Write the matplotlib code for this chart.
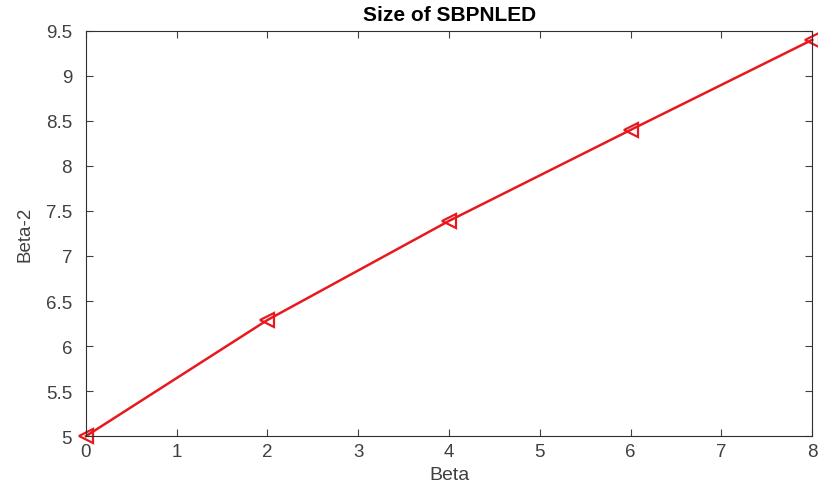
import matplotlib
matplotlib.use("Agg")
import matplotlib.pyplot as plt

plt.rcParams["font.family"] = ["Liberation Sans", "DejaVu Sans"]

beta = [0, 2, 4, 6, 8]
beta2 = [5.0, 6.29, 7.39, 8.40, 9.40]
xticks = [0, 1, 2, 3, 4, 5, 6, 7, 8]
yticks = [5, 5.5, 6, 6.5, 7, 7.5, 8, 8.5, 9, 9.5]
ytick_labels = ["5", "5.5", "6", "6.5", "7", "7.5", "8", "8.5", "9", "9.5"]

fig = plt.figure(figsize=(8.18, 4.89), dpi=100)
ax = fig.add_axes([0.105, 0.106, 0.888, 0.829])

ax.plot(beta, beta2, color="#e8191e", lw=1.8, marker="<", markersize=10,
        markerfacecolor="none", markeredgewidth=1.6, clip_on=False)

ax.set_xlim(0, 8)
ax.set_ylim(5, 9.5)
ax.set_xticks(xticks)
ax.set_yticks(yticks)
ax.set_yticklabels(ytick_labels)
ax.tick_params(direction="in", top=True, right=True, length=5, width=0.8,
               labelsize=13.5, colors="#404040")
ax.tick_params(axis="y", pad=10)
ax.tick_params(axis="x", pad=5)
for s in ax.spines.values():
    s.set_color("#303030")
    s.set_linewidth(0.8)

ax.set_xlabel("Beta", fontsize=14, color="#404040", labelpad=4)
ax.set_ylabel("Beta-2", fontsize=13.5, color="#404040", labelpad=9)
ax.set_title("Size of SBPNLED", fontsize=15, fontweight="bold", pad=8)

fig.savefig("out.png", dpi=100)
